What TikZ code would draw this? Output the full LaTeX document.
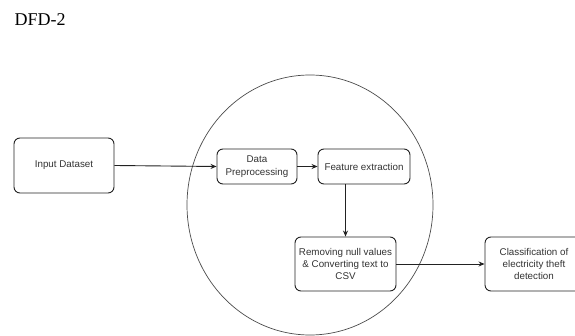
\documentclass[tikz,border=0pt]{standalone}
\usepackage{fontspec}
\setmainfont{Liberation Sans}
\newfontfamily\titlefont{Liberation Serif}
\usetikzlibrary{arrows.meta,shapes.geometric}
\definecolor{txt}{HTML}{333333}
\definecolor{edge}{HTML}{222222}
\tikzset{
  procbox/.style={draw=edge, line width=0.9pt, rounded corners=6pt, align=center,
    text=txt, font=\fontsize{9.8}{12.3}\selectfont, inner sep=0pt},
  flow/.style={draw=edge, line width=0.9pt, -{Stealth[length=6pt,width=5pt]}},
}
\begin{document}
\begin{tikzpicture}[x=1pt,y=-1pt]
\useasboundingbox[fill=white] (0,0) rectangle (575,336);
\node[anchor=base west, font=\titlefont\fontsize{18}{20}\selectfont, text=black, inner sep=0pt] (title) at (14.5,26) {DFD-2};
\node[draw=black!70, line width=0.7pt, ellipse, minimum width=246pt, minimum height=260pt, inner sep=0pt] (bubble) at (310,205) {};
\node[procbox, minimum width=100pt, minimum height=55pt] (in) at (64,165.5) {Input Dataset};
\node[procbox, minimum width=80pt, minimum height=35pt] (dp) at (257,166.5) {Data\\Preprocessing};
\node[procbox, minimum width=92pt, minimum height=35pt] (fe) at (364,166.5) {Feature extraction};
\node[procbox, minimum width=101pt, minimum height=54pt] (rm) at (345.5,264) {Removing null values\\\& Converting text to\\CSV};
\node[procbox, minimum width=98pt, minimum height=54pt] (cl) at (534,264) {Classification of\\electricity theft\\detection};
\draw[flow] (in.east) -- (dp.west);
\draw[flow] (dp.east) -- (fe.west);
\draw[flow] (fe.south -| rm.north) -- (rm.north);
\draw[flow] (rm.east) -- (cl.west);
\end{tikzpicture}
\end{document}
